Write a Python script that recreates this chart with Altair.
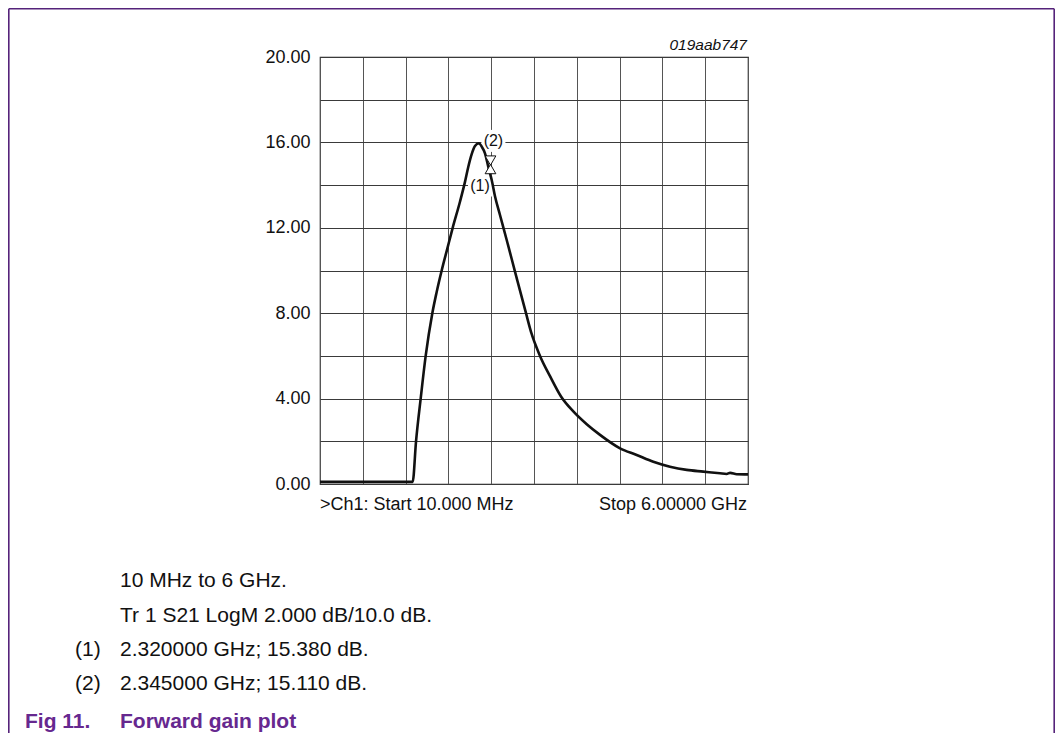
import altair as alt
import pandas as pd

# ---- trace (frequency in MHz, gain in dB) ----
freq_mhz = [10, 1307, 1354, 1419, 1489, 1582, 1640, 1713, 1790, 1867, 1969,
            2039, 2085, 2133, 2179, 2235, 2273, 2319, 2365, 2413, 2459, 2529, 2623,
            2739, 2893, 2970, 3089, 3229, 3383, 3555, 3743, 3929, 4209, 4442, 4675, 4908,
            5142, 5374, 5608, 5700, 5750, 5842, 6000]
gain_db = [0.10, 0.10, 2.00, 4.00, 6.00, 8.00, 8.95, 10.00, 11.00, 12.00, 13.22,
           14.15, 14.85, 15.45, 15.83, 15.96, 15.80, 15.49, 14.86, 14.24, 13.48, 12.60, 11.43,
           9.95, 8.00, 7.05, 6.00, 5.05, 4.10, 3.40, 2.80, 2.30, 1.67, 1.36, 1.04, 0.81,
           0.66, 0.58, 0.50, 0.47, 0.52, 0.46, 0.45]

# ---- markers ----
marker_freq = [2396, 2396]
marker_db = [15.15, 14.75]
marker_shape = ["triangle-down", "triangle-up"]
marker_label = ["(2)", "(1)"]
marker_label_freq = [2437, 2249]
marker_label_db = [16.07, 13.98]

# ---- axis ticks ----
x_grid = [10, 609, 1208, 1807, 2406, 3005, 3604, 4203, 4802, 5401, 6000]
y_grid = [0, 2, 4, 6, 8, 10, 12, 14, 16, 18, 20]

caption_lines = ["10 MHz to 6 GHz.", "Tr 1 S21 LogM 2.000 dB/10.0 dB.",
                 "2.320000 GHz; 15.380 dB.", "2.345000 GHz; 15.110 dB."]
caption_nums = ["(1)", "(2)"]
fig_num = "Fig 11."
fig_title = "Forward gain plot"
code_label = "019aab747"
start_label = ">Ch1: Start 10.000 MHz"
stop_label = "Stop 6.00000 GHz"

FONT = "Liberation Sans"
PURPLE_TXT = "#66288f"
PURPLE_LINE = "#55237a"

W, H = 428, 427
TOTAL_W, TOTAL_H = 1047, 725
PAD_L, PAD_T = 312, 49
PAD_R = TOTAL_W - PAD_L - W
PAD_B = TOTAL_H - PAD_T - H

trace = pd.DataFrame({"f": freq_mhz, "g": gain_db})
markers = pd.DataFrame({"f": marker_freq, "g": marker_db, "shape": marker_shape})
labels = pd.DataFrame({"f": marker_label_freq, "g": marker_label_db, "t": marker_label})

xscale = alt.Scale(domain=[10, 6000], nice=False, zero=False)
yscale = alt.Scale(domain=[0, 20], nice=False, zero=False)

xaxis = alt.Axis(values=x_grid, grid=True, gridColor="#555", gridWidth=1, labels=False,
                 ticks=False, domain=False, title=None)
yaxis = alt.Axis(values=y_grid, grid=True, gridColor="#3a3a3a", gridWidth=1, ticks=False,
                 domain=False, title=None, labelFont=FONT, labelFontSize=18,
                 labelColor="#111", labelPadding=10,
                 labelExpr="datum.value % 4 == 0 ? format(datum.value, '.2f') : ''")

line = alt.Chart(trace).mark_line(color="#111", strokeWidth=2.6, interpolate="monotone").encode(
    x=alt.X("f:Q", scale=xscale, axis=xaxis),
    y=alt.Y("g:Q", scale=yscale, axis=yaxis),
)

boxes = alt.Chart(labels).mark_rect(color="white", xOffset=-12, x2Offset=12,
                                    yOffset=-11, y2Offset=11).encode(
    x=alt.X("f:Q", scale=xscale), x2="f:Q",
    y=alt.Y("g:Q", scale=yscale), y2="g:Q",
)

tri = alt.Chart(markers).mark_point(filled=False, fill="white", fillOpacity=1,
                                    stroke="#111", strokeWidth=1, size=115, opacity=1).encode(
    x=alt.X("f:Q", scale=xscale),
    y=alt.Y("g:Q", scale=yscale),
    shape=alt.Shape("shape:N", scale=None),
)

lab = alt.Chart(labels).mark_text(font=FONT, fontSize=16, color="#111",
                                  align="center", baseline="middle").encode(
    x=alt.X("f:Q", scale=xscale),
    y=alt.Y("g:Q", scale=yscale),
    text="t:N",
)


def txt(s, x, y, size, align="left", color="#111", weight="normal", style="normal"):
    return alt.Chart(pd.DataFrame({"t": [s]})).mark_text(
        font=FONT, fontSize=size, align=align, baseline="alphabetic", color=color,
        fontWeight=weight, fontStyle=style,
    ).encode(x=alt.value(x), y=alt.value(y), text="t:N")


texts = [
    txt(code_label, W - 1, -7, 15.5, align="right", style="italic"),
    txt(start_label, 0, 453, 18),
    txt(stop_label, W - 1, 453, 18, align="right"),
    txt(caption_lines[0], -200, 530, 21),
    txt(caption_lines[1], -200, 565, 21),
    txt(caption_nums[0], -245, 599, 21),
    txt(caption_lines[2], -200, 599, 21),
    txt(caption_nums[1], -245, 633, 21),
    txt(caption_lines[3], -200, 633, 21),
    txt(fig_num, -295, 671, 21, color=PURPLE_TXT, weight="bold"),
    txt(fig_title, -200, 671, 21, color=PURPLE_TXT, weight="bold"),
]

one = pd.DataFrame({"k": [0]})
left_x = 0.8 - PAD_L
right_x = TOTAL_W - 0.8 - PAD_L
top_y = 0.8 - PAD_T
bottom_y = TOTAL_H - PAD_T
left_rule = alt.Chart(one).mark_rule(color=PURPLE_LINE, strokeWidth=1.6).encode(
    x=alt.value(left_x), y=alt.value(top_y), y2=alt.value(bottom_y))
right_rule = alt.Chart(one).mark_rule(color=PURPLE_LINE, strokeWidth=1.6).encode(
    x=alt.value(right_x), y=alt.value(top_y), y2=alt.value(bottom_y))
top_rule = alt.Chart(one).mark_rule(color=PURPLE_LINE, strokeWidth=1.6).encode(
    x=alt.value(left_x), x2=alt.value(right_x), y=alt.value(top_y))

chart = alt.layer(boxes, line, tri, lab, *texts, left_rule, right_rule, top_rule).properties(
    width=W, height=H,
    autosize=alt.AutoSizeParams(type="none"),
    padding={"left": PAD_L, "top": PAD_T, "right": PAD_R, "bottom": PAD_B},
    background="white",
).configure_view(stroke="#222", strokeWidth=1.2)

chart.save("out.html", embed_options={"renderer": "svg", "actions": False})
